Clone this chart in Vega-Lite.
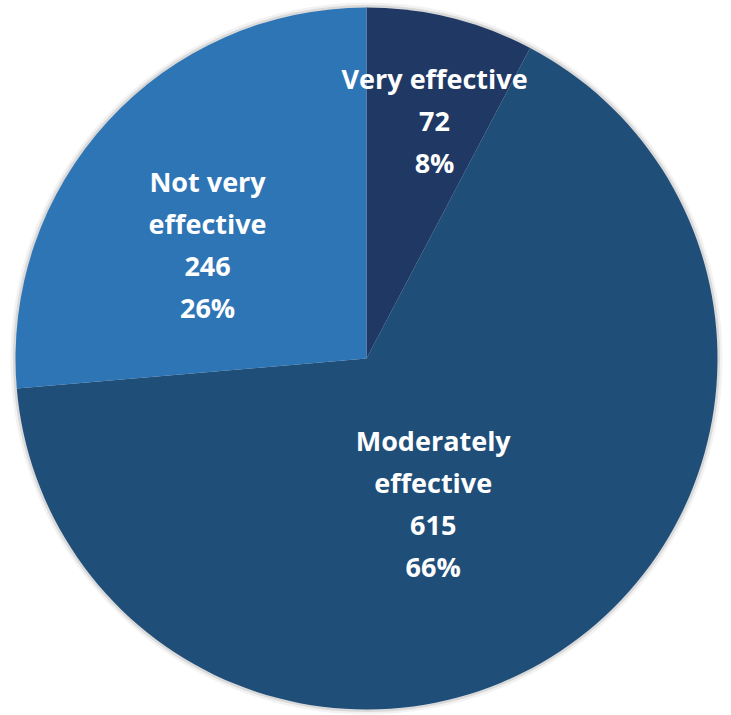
{
  "$schema": "https://vega.github.io/schema/vega-lite/v6.json",
  "width": 731,
  "height": 715,
  "autosize": {"type": "fit", "contains": "padding"},
  "padding": {"left": 2, "top": 2, "right": 0, "bottom": 0},
  "background": "white",
  "view": {"stroke": null},
  "data": {
    "values": [
      {"name": "Very effective", "label": "Very effective", "count": 72, "order": 1},
      {"name": "Moderately effective", "label": "Moderately|effective", "count": 615, "order": 2},
      {"name": "Not very effective", "label": "Not very|effective", "count": 246, "order": 3}
    ]
  },
  "transform": [
    {"joinaggregate": [{"op": "sum", "field": "count", "as": "total"}]},
    {"stack": "count", "groupby": [], "sort": [{"field": "order"}], "as": ["v0", "v1"]},
    {"calculate": "(datum.v0 + datum.v1) / 2", "as": "mid"},
    {"calculate": "datum.label + '|' + datum.count + '|' + format(datum.count / datum.total, '.0%')", "as": "text"}
  ],
  "encoding": {
    "theta": {"field": "v0", "type": "quantitative", "stack": null, "scale": {"domain": [0, 933], "nice": false}}
  },
  "layer": [
    {
      "mark": {"type": "arc", "radius": 356, "fill": "#000000", "opacity": 0.05},
      "encoding": {"theta2": {"field": "v1"}}
    },
    {
      "mark": {"type": "arc", "radius": 353.5, "fill": "#000000", "opacity": 0.1},
      "encoding": {"theta2": {"field": "v1"}}
    },
    {
      "mark": {"type": "arc", "radius": 351},
      "encoding": {
        "theta2": {"field": "v1"},
        "color": {
          "field": "name",
          "type": "nominal",
          "legend": null,
          "scale": {
            "domain": ["Very effective", "Moderately effective", "Not very effective"],
            "range": ["#1f3864", "#1f4e79", "#2e75b6"]
          }
        }
      }
    },
    {
      "transform": [{"filter": "datum.name === 'Very effective'"}],
      "mark": {"type": "text", "radius": 246, "dx": 9, "dy": -39},
      "encoding": {"theta": {"field": "mid", "type": "quantitative"}, "text": {"field": "text"}}
    },
    {
      "transform": [{"filter": "datum.name === 'Moderately effective'"}],
      "mark": {"type": "text", "radius": 155, "dx": -19, "dy": -45},
      "encoding": {"theta": {"field": "mid", "type": "quantitative"}, "text": {"field": "text"}}
    },
    {
      "transform": [{"filter": "datum.name === 'Not very effective'"}],
      "mark": {"type": "text", "radius": 194, "dx": -16, "dy": -43},
      "encoding": {"theta": {"field": "mid", "type": "quantitative"}, "text": {"field": "text"}}
    }
  ],
  "config": {
    "text": {
      "font": "Open Sans",
      "fontWeight": "bold",
      "fontSize": 27,
      "fill": "white",
      "align": "center",
      "baseline": "middle",
      "lineBreak": "|",
      "lineHeight": 42
    }
  }
}
